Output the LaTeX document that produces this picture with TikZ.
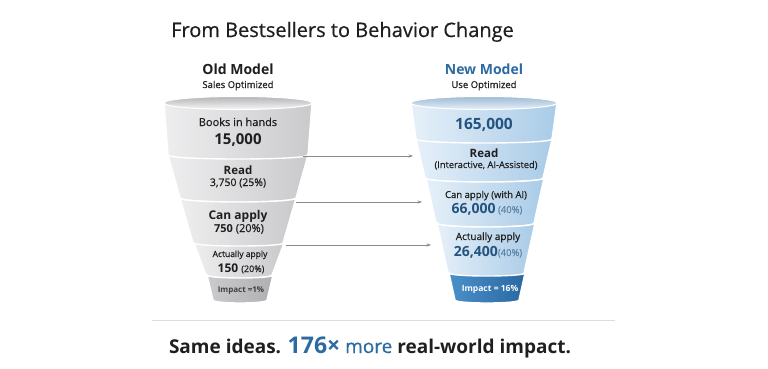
\documentclass[tikz,border=0pt]{standalone}
\usepackage{fontspec}
\setmainfont{Open Sans}
\newfontfamily\medfont{Open Sans}[FakeBold=0.5]
\usetikzlibrary{arrows.meta}
\definecolor{txtdark}{HTML}{1F1F1F}
\definecolor{numblue}{HTML}{24537F}
\definecolor{hdblue}{HTML}{2C6AA0}
\definecolor{pctblue}{HTML}{5E83A6}
\definecolor{arrowgray}{HTML}{8A8A8A}
\definecolor{gL}{HTML}{EEEEEF}
\definecolor{gM}{HTML}{F7F7F8}
\definecolor{gR}{HTML}{CACACD}
\definecolor{giL}{HTML}{CBCBCE}
\definecolor{giM}{HTML}{D3D3D6}
\definecolor{giR}{HTML}{B0B0B4}
\definecolor{bL}{HTML}{E6F0F9}
\definecolor{bM}{HTML}{D8E8F5}
\definecolor{bR}{HTML}{A9CBE7}
\definecolor{biL}{HTML}{4A90C8}
\definecolor{biM}{HTML}{3D86C3}
\definecolor{biR}{HTML}{2A68A4}
\definecolor{sepgray}{HTML}{DDDDDD}
% segment: cx, y1, w1, y2, w2, depth
\newcommand\fsegpath[6]{(#1-#3,#2) .. controls (#1-#3,#2+1.333*#6) and (#1+#3,#2+1.333*#6) .. (#1+#3,#2) -- (#1+#5,#4) .. controls (#1+#5,#4+1.333*#6) and (#1-#5,#4+1.333*#6) .. (#1-#5,#4) -- cycle}
\tikzset{
  grayseg/.style={left color=gL, middle color=gM, right color=gR, draw=white, line width=1.4pt},
  grayimp/.style={left color=giL, middle color=giM, right color=giR, draw=white, line width=1.4pt},
  blueseg/.style={left color=bL, middle color=bM, right color=bR, draw=white, line width=1.4pt},
  blueimp/.style={left color=biL, middle color=biM, right color=biR, draw=white, line width=1.4pt},
  lbl/.style={anchor=base, inner sep=0pt, text=txtdark},
  conn/.style={draw=arrowgray, line width=0.6pt, -{Stealth[length=4.5pt,width=3.2pt]}},
}
\begin{document}
\begin{tikzpicture}[x=1pt,y=-1pt]
\useasboundingbox[fill=white] (0,0) rectangle (768,368);

% Title
\node[lbl, anchor=base west] (title) at (171,37) {\medfont\fontsize{20}{22}\selectfont From Bestsellers to Behavior Change};

% Headers
\node[lbl] (oldh) at (238,74) {\fontsize{14}{16}\selectfont\bfseries Old Model};
\node[lbl] (olds) at (238,88) {\medfont\fontsize{9.5}{11}\selectfont Sales Optimized};
\node[lbl, text=hdblue] (newh) at (484,74) {\fontsize{14}{16}\selectfont\bfseries New Model};
\node[lbl] (news) at (484,88) {\medfont\fontsize{9.5}{11}\selectfont Use Optimized};

% ---------- Left funnel ----------
\shade[grayseg] \fsegpath{238}{103}{74}{155}{70}{5};
\shade[grayseg] \fsegpath{238}{155}{70}{198}{58}{4};
\shade[grayseg] \fsegpath{238}{198}{58}{243}{45}{4};
\shade[grayseg] \fsegpath{239}{243}{45}{275}{33}{3};
\shade[grayimp] \fsegpath{240}{275}{33}{300}{27}{3};
\shade[top color=gR!85!black!90, bottom color=gM, draw=white, line width=1pt] (238,103) ellipse [x radius=74, y radius=6.5];

% ---------- Right funnel ----------
\shade[blueseg] \fsegpath{484}{103}{73}{139}{68}{5};
\shade[blueseg] \fsegpath{484}{139}{68}{178}{59}{4};
\shade[blueseg] \fsegpath{485}{178}{59}{223}{49}{4};
\shade[blueseg] \fsegpath{486}{223}{49}{273}{38}{4};
\shade[blueimp] \fsegpath{487}{273}{38}{300}{32}{3};
\shade[top color=bR!90!black!95, bottom color=bL, draw=white, line width=1pt] (484,103) ellipse [x radius=73, y radius=6.5];

% Left labels
\node[lbl] (l1a) at (238,126) {\medfont\fontsize{11}{12}\selectfont Books in hands};
\node[lbl] (l1b) at (238,144) {\fontsize{15}{16}\selectfont\bfseries 15,000};
\node[lbl] (l2a) at (238,174) {\fontsize{11.5}{12}\selectfont\bfseries Read};
\node[lbl] (l2b) at (238,186) {\medfont\fontsize{10.5}{12}\selectfont 3,750 (25\%)};
\node[lbl] (l3a) at (238,219) {\fontsize{12}{13}\selectfont\bfseries Can apply};
\node[lbl] (l3b) at (239,232) {\fontsize{11}{12}\selectfont\textbf{750} {\medfont(20\%)}};
\node[lbl] (l4a) at (240,257) {\medfont\fontsize{8.5}{10}\selectfont Actually apply};
\node[lbl] (l4b) at (241,272) {\fontsize{12}{13}\selectfont\textbf{150} {\medfont\fontsize{9}{10}\selectfont(20\%)}};
\node[lbl, text=black!75] (l5) at (241,292) {\fontsize{8}{9}\selectfont\bfseries Impact =1\%};

% Right labels
\node[lbl, text=numblue] (r1) at (484,129) {\fontsize{15.5}{17}\selectfont\bfseries 165,000};
\node[lbl] (r2a) at (484,157) {\fontsize{11.5}{13}\selectfont\bfseries Read};
\node[lbl] (r2b) at (486,168) {\medfont\fontsize{9.3}{10}\selectfont (Interactive, AI-Assisted)};
\node[lbl] (r3a) at (486,198) {\medfont\fontsize{9.5}{11}\selectfont Can apply (with AI)};
\node[lbl] (r3b) at (487,213) {\fontsize{14}{16}\selectfont\textcolor{numblue}{\bfseries 66,000}\,{\medfont\fontsize{9.5}{11}\selectfont\textcolor{pctblue}{(40\%)}}};
\node[lbl] (r4a) at (488,240) {\medfont\fontsize{10}{11}\selectfont Actually apply};
\node[lbl] (r4b) at (488,256) {\fontsize{14}{16}\selectfont\textcolor{numblue}{\bfseries 26,400}{\medfont\fontsize{9.5}{11}\selectfont\textcolor{pctblue}{(40\%)}}};
\node[lbl, text=white] (r5) at (490,291) {\fontsize{8.5}{10}\selectfont\bfseries Impact = 16\%};

% Arrows
\coordinate (a1s) at (303,156); \coordinate (a1e) at (413,156);
\coordinate (a2s) at (296,202); \coordinate (a2e) at (422,202);
\coordinate (a3s) at (286,245); \coordinate (a3e) at (431,245);
\draw[conn] (a1s) -- (a1e);
\draw[conn] (a2s) -- (a2e);
\draw[conn] (a3s) -- (a3e);

% Separator
\coordinate (sepL) at (152,320); \coordinate (sepR) at (615,320);
\draw[sepgray, line width=0.7pt] (sepL) -- (sepR);

% Bottom line
\node[lbl] (bottom) at (370,353) {\fontsize{19}{21}\selectfont\textbf{Same ideas.} \textcolor{hdblue}{{\fontsize{23}{24}\selectfont\bfseries 176×} {\medfont more}} \textbf{real-world impact.}};
\end{tikzpicture}
\end{document}
